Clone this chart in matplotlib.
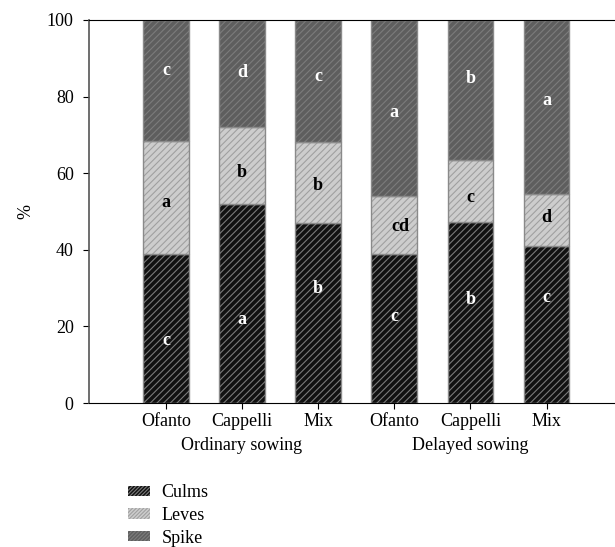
import matplotlib
matplotlib.use("Agg")
import matplotlib.pyplot as plt
from matplotlib.patches import Patch
import numpy as np

plt.rcParams["font.family"] = ["Liberation Serif", "DejaVu Serif"]
plt.rcParams["hatch.linewidth"] = 0.8

# data
varieties = ["Ofanto", "Cappelli", "Mix", "Ofanto", "Cappelli", "Mix"]
groups = ["Ordinary sowing", "Delayed sowing"]
culms = [38.8, 51.9, 47.1, 38.8, 47.2, 41.0]
leves = [29.6, 20.2, 21.1, 15.3, 16.2, 13.5]
spike = [31.6, 27.9, 31.8, 45.9, 36.6, 45.5]
culms_let = ["c", "a", "b", "c", "b", "c"]
leves_let = ["a", "b", "b", "cd", "c", "d"]
spike_let = ["c", "d", "c", "a", "b", "a"]

# label heights (layout)
culms_lab_y = [16.4, 21.9, 30.0, 22.7, 27.1, 27.6]
leves_lab_y = [52.3, 60.2, 56.7, 46.0, 53.6, 48.4]
spike_lab_y = [86.9, 86.3, 85.2, 75.8, 84.8, 78.9]

fig = plt.figure(figsize=(6.15, 5.47), dpi=100)
ax = fig.add_axes([0.1447, 0.263, 0.853, 0.7006])

x = np.arange(len(varieties))
w = 0.6
styles = [
    ("Culms", "#111111", "#7a7a7a"),
    ("Leves", "#cdcdcd", "#a0a0a0"),
    ("Spike", "#5e5e5e", "#7c7c7c"),
]
bottom = np.zeros(len(x))
handles = []
for (name, fc, hc), vals in zip(styles, [culms, leves, spike]):
    vals = np.array(vals)
    ax.bar(x, vals, w, bottom=bottom, color=fc, edgecolor=hc, hatch="/////", linewidth=0)
    ax.bar(x, vals, w, bottom=bottom, fill=False, edgecolor="#8a8a8a", linewidth=1.0)
    bottom += vals
    handles.append(Patch(facecolor=fc, edgecolor=hc, hatch="/////////", linewidth=0, label=name))

for i in range(len(x)):
    ax.text(x[i], culms_lab_y[i], culms_let[i], color="white", fontweight="bold",
            fontsize=13, ha="center", va="center")
    ax.text(x[i] + (0.08 if len(leves_let[i]) > 1 else 0), leves_lab_y[i], leves_let[i],
            color="black", fontweight="bold", fontsize=13, ha="center", va="center")
    ax.text(x[i], spike_lab_y[i], spike_let[i], color="white", fontweight="bold",
            fontsize=13, ha="center", va="center")

ax.set_xlim(-1.01, 5.88)
ax.set_ylim(0, 100)
ax.set_yticks(range(0, 101, 20))
ax.set_xticks(x)
ax.set_xticklabels(varieties, fontsize=13)
ax.tick_params(axis="y", labelsize=13, length=4, direction="out", pad=7)
ax.tick_params(axis="x", length=4, direction="out", pad=3)
ax.spines["right"].set_visible(False)
ax.spines["left"].set_color("#555555")
ax.spines["left"].set_linewidth(1.2)
ax.set_ylabel("%", fontsize=13)
ax.yaxis.set_label_coords(-0.105, 0.5)

ax.text(1, -0.11, groups[0], transform=ax.get_xaxis_transform(), ha="center", va="center", fontsize=13)
ax.text(4, -0.11, groups[1], transform=ax.get_xaxis_transform(), ha="center", va="center", fontsize=13)

fig.legend(handles=handles, loc="upper left", bbox_to_anchor=(0.208, 0.115),
           frameon=False, fontsize=13, handlelength=1.2, handleheight=0.5,
           labelspacing=0.32, handletextpad=0.65, borderaxespad=0, borderpad=0)

fig.savefig("out.png", dpi=100)
